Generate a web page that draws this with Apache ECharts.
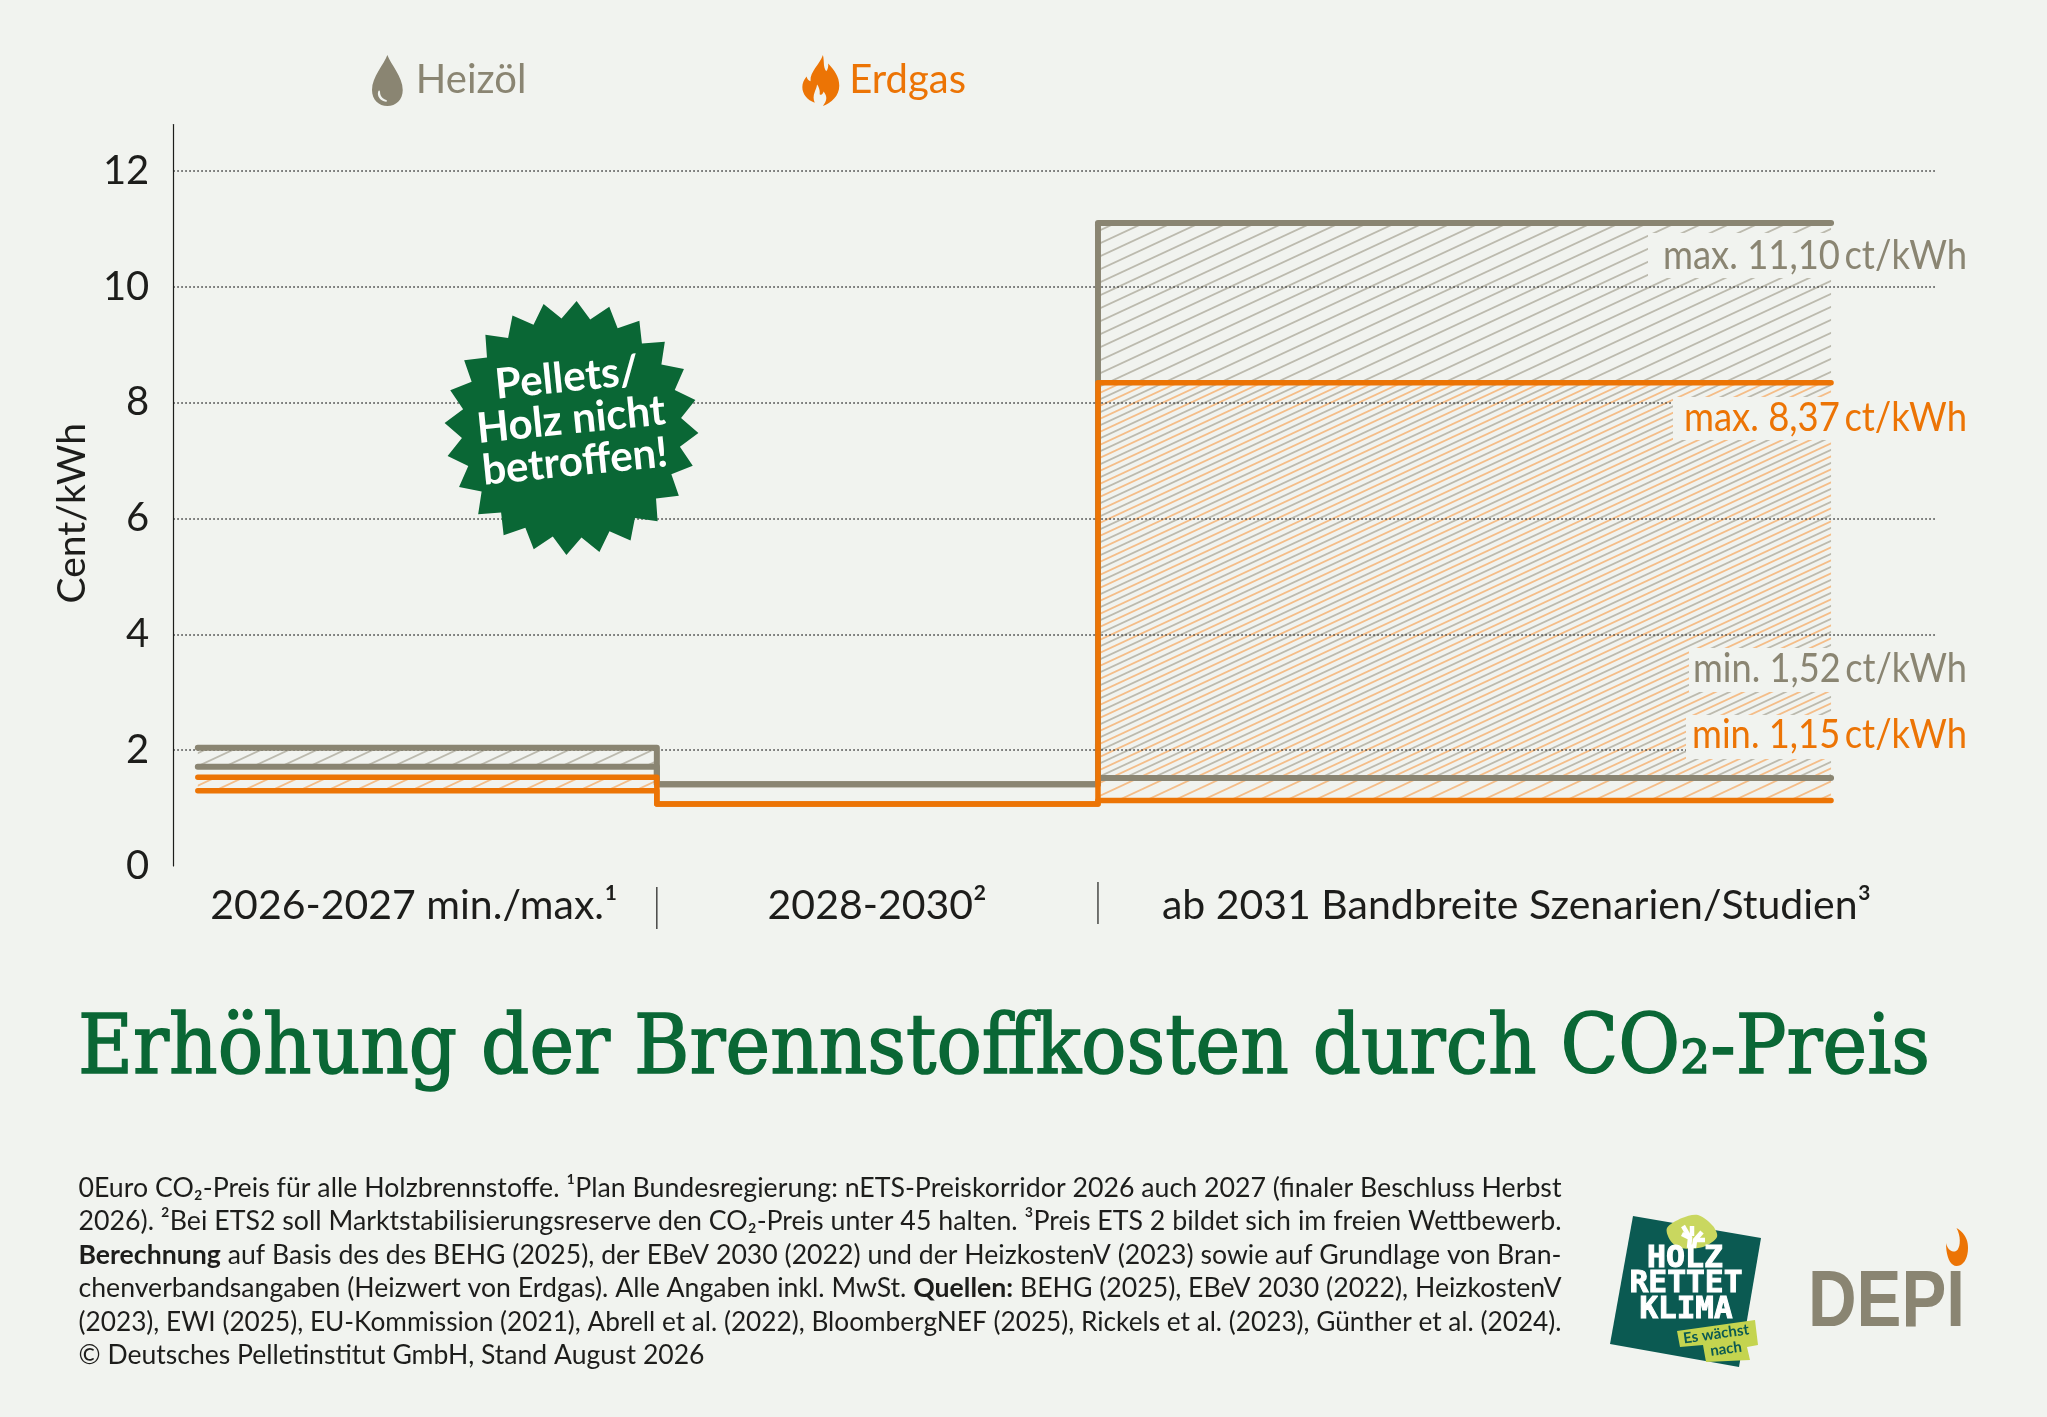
<!DOCTYPE html>
<html lang="de">
<head>
<meta charset="utf-8">
<style>html,body{margin:0;padding:0;background:#f1f3ef}#chart{width:2047px;height:1417px}</style>
<script src="https://cdn.jsdelivr.net/npm/echarts@6/dist/echarts.min.js"></script>
</head>
<body>
<div id="chart"></div>
<script>
// ---- data ----
const periodEdges = [0, 1, 1.961, 3.558];
const periodLabels = ['2026-2027 min./max.¹', '2028-2030²', 'ab 2031 Bandbreite Szenarien/Studien³'];
const periodLabelAt = [0.471, 1.48, 2.873];
const separatorsAt = [1, 1.961];
const heizoelMax = [2.04, 1.41, 11.10];
const heizoelMin = [1.715, 1.41, 1.52];
const erdgasMax = [1.53, 1.07, 8.34];
const erdgasMin = [1.30, 1.07, 1.13];
const valueNotes = ['max. 11,10\u2009ct/kWh', 'max. 8,37\u2009ct/kWh', 'min. 1,52\u2009ct/kWh', 'min. 1,15\u2009ct/kWh'];
const titleText = 'Erhöhung der Brennstoffkosten durch CO₂-Preis';
const footnoteLines = [
  [['0Euro CO₂-Preis für alle Holzbrennstoffe. ¹Plan Bundesregierung: nETS-Preiskorridor 2026 auch 2027 (finaler Beschluss Herbst', 0]],
  [['2026). ²Bei ETS2 soll Marktstabilisierungsreserve den CO₂-Preis unter 45 halten. ³Preis ETS 2 bildet sich im freien Wettbewerb.', 0]],
  [['Berechnung', 1], [' auf Basis des des BEHG (2025), der EBeV 2030 (2022) und der HeizkostenV (2023) sowie auf Grundlage von Bran-', 0]],
  [['chenverbandsangaben (Heizwert von Erdgas). Alle Angaben inkl. MwSt. ', 0], ['Quellen:', 1], [' BEHG (2025), EBeV 2030 (2022), HeizkostenV', 0]],
  [['(2023), EWI (2025), EU-Kommission (2021), Abrell et al. (2022), BloombergNEF (2025), Rickels et al. (2023), Günther et al. (2024).', 0]],
  [['© Deutsches Pelletinstitut GmbH, Stand August 2026', 0]]
];

// ---- style ----
const BG = '#f1f3ef', GRAY = '#8a8572', ORANGE = '#ec7405', INK = '#1d1d1b', GREEN = '#0a6735';
const FONT = 'Lato, "Noto Sans", sans-serif';

function hatchTile(color, phase) {
  const w = 28, h = 13, c = document.createElement('canvas');
  c.width = w; c.height = h;
  const g = c.getContext('2d');
  g.strokeStyle = color; g.lineWidth = 1.8;
  for (let k = -2; k <= 2; k++) {
    const o = phase + k * h;
    g.beginPath(); g.moveTo(-w, o + 2 * h); g.lineTo(2 * w, o - h); g.stroke();
  }
  return c;
}
const grayTile = hatchTile('#bcbaae', 0);
const orangeTile = hatchTile('#f4bd88', 6.5);

const measureCtx = document.createElement('canvas').getContext('2d');
function widthOf(text, font) { measureCtx.font = font; return measureCtx.measureText(text).width; }
function fitted(text, font, target) { return target / widthOf(text, font); }

function band(max, min) {
  return [
    [periodEdges[0], periodEdges[1], min[0], max[0]],
    [periodEdges[2], periodEdges[3], min[2], max[2]]
  ];
}
function stepLine(v) {
  return [[periodEdges[0], v[0]], [periodEdges[1], v[1]], [periodEdges[2], v[2]], [periodEdges[3], v[2]]];
}
function hatchSeries(name, data, tile, z) {
  return {
    type: 'custom', name, data, z, silent: true,
    encode: { x: [0, 1], y: [2, 3] },
    renderItem(params, api) {
      const a = api.coord([api.value(0), api.value(3)]);
      const b = api.coord([api.value(1), api.value(2)]);
      return { type: 'rect', shape: { x: a[0], y: a[1], width: b[0] - a[0], height: b[1] - a[1] },
               style: { fill: { image: tile, repeat: 'repeat' } } };
    }
  };
}
function lineSeries(name, values, color, width) {
  return { type: 'line', name, data: stepLine(values), step: 'end', symbol: 'none', color, z: 4, silent: true,
           lineStyle: { color, width, cap: 'round', join: 'round' } };
}
// sample a chain of cubic beziers into polygon points
function bezierPts(start, curves) {
  const pts = [start]; let p = start;
  curves.forEach(c => {
    for (let k = 1; k <= 10; k++) {
      const t = k / 10, u = 1 - t;
      pts.push([
        u*u*u*p[0] + 3*u*u*t*c[0] + 3*u*t*t*c[2] + t*t*t*c[4],
        u*u*u*p[1] + 3*u*u*t*c[1] + 3*u*t*t*c[3] + t*t*t*c[5]
      ]);
    }
    p = [c[4], c[5]];
  });
  return pts;
}

// ---- static graphics ----
const graphics = [];

// value notes beside the corridor
const noteBoxes = [
  { left: 1648, top: 233, bottom: 278, cy: 256, x0: 1663, color: GRAY },
  { left: 1673, top: 397, bottom: 440, cy: 418, x0: 1684, color: ORANGE },
  { left: 1689, top: 648, bottom: 692, cy: 669, x0: 1693, color: GRAY },
  { left: 1686, top: 715, bottom: 759, cy: 735, x0: 1692, color: ORANGE }
];
const noteFont = '40px ' + FONT;
noteBoxes.forEach((b, i) => {
  graphics.push({ type: 'rect', z: 10, silent: true, shape: { x: b.left, y: b.top, width: 1976 - b.left, height: b.bottom - b.top }, style: { fill: BG } });
  graphics.push({ type: 'text', z: 11, silent: true, x: 1967, y: b.cy, scaleX: fitted(valueNotes[i], noteFont, 1967 - b.x0),
    style: { text: valueNotes[i], font: noteFont, fill: b.color, align: 'right', verticalAlign: 'middle' } });
});

// starburst
const starPts = [], cx = 571.5, cy = 428, spikes = 24;
for (let i = 0; i < spikes * 2; i++) {
  const a = (-90 + 2.3 + i * 180 / spikes) * Math.PI / 180, r = i % 2 ? 110 : 127;
  starPts.push([cx + r * Math.cos(a), cy + r * Math.sin(a)]);
}
graphics.push({ type: 'polygon', z: 10, silent: true, shape: { points: starPts }, style: { fill: GREEN } });
[['Pellets/', 567, 378], ['Holz nicht', 571, 420], ['betroffen!', 575, 462]].forEach(t => {
  graphics.push({ type: 'text', z: 11, silent: true, x: t[1], y: t[2], rotation: 0.1,
    style: { text: t[0], font: 'bold 42px ' + FONT, fill: '#fff', align: 'center', verticalAlign: 'middle' } });
});

// main title
const titleFont = '82px "DejaVu Serif", serif';
graphics.push({ type: 'text', z: 10, silent: true, x: 78, y: 1052, scaleX: fitted(titleText, titleFont, 1852),
  style: { text: titleText, font: titleFont, fill: GREEN, stroke: GREEN, lineWidth: 1.6, align: 'left', verticalAlign: 'middle' } });

// footnotes
const noteReg = '27px ' + FONT, noteBold = 'bold 27px ' + FONT;
footnoteLines.forEach((segs, i) => {
  const natural = segs.reduce((s, p) => s + widthOf(p[0], p[1] ? noteBold : noteReg), 0);
  const target = i === 5 ? 626 : 1483;
  graphics.push({ type: 'text', z: 10, silent: true, x: 78.5, y: 1188 + i * 33.5, scaleX: target / natural,
    style: { text: segs.map(p => p[1] ? '{b|' + p[0] + '}' : '{n|' + p[0] + '}').join(''),
      font: noteReg, fill: INK, align: 'left', verticalAlign: 'middle',
      rich: { n: { font: noteReg, fill: INK }, b: { font: noteBold, fill: INK } } } });
});

// Holz rettet Klima logo
graphics.push({ type: 'polygon', z: 10, silent: true, shape: { points: [[1633, 1216], [1761, 1238], [1739, 1367], [1610, 1344]] }, style: { fill: '#0b5a52' } });
graphics.push({ type: 'polygon', z: 11, silent: true, shape: { smooth: 0.3, points: [[1667, 1228], [1682, 1218], [1698, 1215], [1713, 1226], [1717, 1237], [1703, 1247], [1680, 1248], [1670, 1240]] }, style: { fill: '#c9d75f' } });
[[[1689, 1248], [1690, 1238], [1682, 1234]], [[1690, 1238], [1683, 1226]], [[1692, 1236], [1692, 1226]],
 [[1694, 1248], [1695, 1240], [1702, 1232]], [[1695, 1240], [1705, 1240]]].forEach(pts => {
  graphics.push({ type: 'polyline', z: 12, silent: true, shape: { points: pts }, style: { fill: 'none', stroke: '#fff', lineWidth: 4.5 } });
});
[['HOLZ', 1685, 1259, 76], ['RETTET', 1686, 1284, 113], ['KLIMA', 1686, 1310, 93]].forEach(t => {
  const f = 'bold 30px "DejaVu Sans Mono", monospace';
  graphics.push({ type: 'text', z: 12, silent: true, x: t[1], y: t[2], scaleX: fitted(t[0], f, t[3]),
    style: { text: t[0], font: f, fill: '#fff', stroke: '#fff', lineWidth: 1, align: 'center', verticalAlign: 'middle' } });
});
graphics.push({ type: 'polygon', z: 13, silent: true, shape: { points: [[1677, 1331], [1755, 1320], [1758, 1345], [1747, 1347], [1750, 1360], [1706, 1362], [1703, 1345], [1680, 1347]] }, style: { fill: '#c4d44f' } });
[['Es wächst', 1716, 1334], ['nach', 1726, 1349]].forEach(t => {
  graphics.push({ type: 'text', z: 14, silent: true, x: t[1], y: t[2], rotation: 0.14,
    style: { text: t[0], font: 'bold 15px ' + FONT, fill: '#0b5a52', align: 'center', verticalAlign: 'middle' } });
});

// DEPI logo
const depiFont = 'bold 80px "Liberation Sans", sans-serif';
graphics.push({ type: 'text', z: 10, silent: true, x: 1808, y: 1304, scaleX: fitted('DEPI', depiFont, 157),
  style: { text: 'DEPI', font: depiFont, fill: GRAY, align: 'left', verticalAlign: 'middle' } });
graphics.push({ type: 'polygon', z: 10, silent: true,
  shape: { points: bezierPts([1956.5, 1228], [
    [1965, 1233, 1968, 1240, 1968, 1248], [1968, 1259, 1963, 1266, 1956.5, 1266],
    [1950, 1266, 1946, 1256, 1946, 1243], [1947.5, 1250, 1952, 1252, 1955, 1251.5], [1960, 1250.5, 1962, 1238, 1956.5, 1228]
  ]) },
  style: { fill: ORANGE } });

// legend icons
const dropIcon = 'path://M44 0 C53 26 88 62 88 100 C88 128 68 146 44 146 C20 146 0 128 0 100 C0 62 35 26 44 0 Z M18 104 C13 118 24 132 40 134 C43 135 44 130 41 129 C30 126 23 117 23 106 C23 101 19 100 18 104 Z';
const flameIcon = 'path://M63 0 C68 22 63 36 73 50 C79 42 80 34 79 26 C98 46 113 66 113 94 C113 126 88 146 63 156 C75 140 78 128 65 112 C63 120 58 124 53 120 C55 108 50 96 45 90 C43 108 28 122 38 146 C15 138 0 120 0 98 C0 86 5 76 13 66 C15 74 18 78 25 80 C23 50 53 30 63 0 Z';

const option = {
  backgroundColor: BG,
  animation: false,
  textStyle: { fontFamily: FONT },
  legend: {
    left: 367, top: 50, itemWidth: 37, itemHeight: 51, itemGap: 276, selectedMode: false,
    itemStyle: { borderWidth: 0 }, lineStyle: { width: 0 },
    textStyle: { fontSize: 40, fontFamily: FONT, padding: [0, 0, 5, 5] },
    data: [
      { name: 'Heizöl', icon: dropIcon, textStyle: { color: GRAY } },
      { name: 'Erdgas', icon: flameIcon, textStyle: { color: ORANGE } }
    ]
  },
  grid: { left: 173.3, right: 111.3, top: 124.5, bottom: 551 },
  xAxis: {
    type: 'value', min: -0.0534, max: 3.786,
    axisLine: { show: false }, axisTick: { show: false }, splitLine: { show: false },
    axisLabel: {
      customValues: periodLabelAt, margin: 19, fontSize: 41, color: INK, fontFamily: FONT,
      formatter: v => periodLabels[periodLabelAt.indexOf(v)]
    }
  },
  yAxis: {
    type: 'value', min: 0, max: 12.8, interval: 2,
    name: 'Cent/kWh', nameLocation: 'middle', nameGap: 36, nameRotate: 90,
    nameTextStyle: { fontSize: 39, color: INK, fontFamily: FONT, padding: [0, 36, 0, 0] },
    axisLine: { show: true, onZero: false, lineStyle: { color: INK, width: 1.2 } },
    axisTick: { show: false },
    axisLabel: { margin: 24, fontSize: 40, color: INK, fontFamily: FONT, showMaxLabel: false, padding: [0, 0, 3, 0] },
    splitLine: { show: true, showMaxLine: false, showMinLine: false, lineStyle: { color: '#333', width: 1.5, type: [1.5, 2.5] } }
  },
  series: [
    hatchSeries('Heizöl Bandbreite', band(heizoelMax, heizoelMin), grayTile, -2),
    hatchSeries('Erdgas Bandbreite', band(erdgasMax, erdgasMin), orangeTile, -1),
    lineSeries('Heizöl', heizoelMax, GRAY, 6),
    lineSeries('Heizöl', heizoelMin, GRAY, 6),
    lineSeries('Erdgas', erdgasMax, ORANGE, 5.5),
    lineSeries('Erdgas', erdgasMin, ORANGE, 5.5),
    {
      type: 'custom', name: 'Trenner', clip: false, silent: true, z: 5,
      data: separatorsAt.map((x, i) => [x, 0, i]),
      encode: { x: 0, y: 1 },
      renderItem(params, api) {
        const p = api.coord([api.value(0), api.value(1)]);
        const top = api.value(2) === 0 ? 21 : 16;
        return { type: 'line', shape: { x1: p[0], y1: p[1] + top, x2: p[0], y2: p[1] + top + 42 }, style: { stroke: INK, lineWidth: 1.2 } };
      }
    }
  ],
  graphic: { elements: graphics }
};

const chart = echarts.init(document.getElementById('chart'), null, { renderer: 'canvas', width: 2047, height: 1417 });
chart.setOption(option);
</script>
</body>
</html>
